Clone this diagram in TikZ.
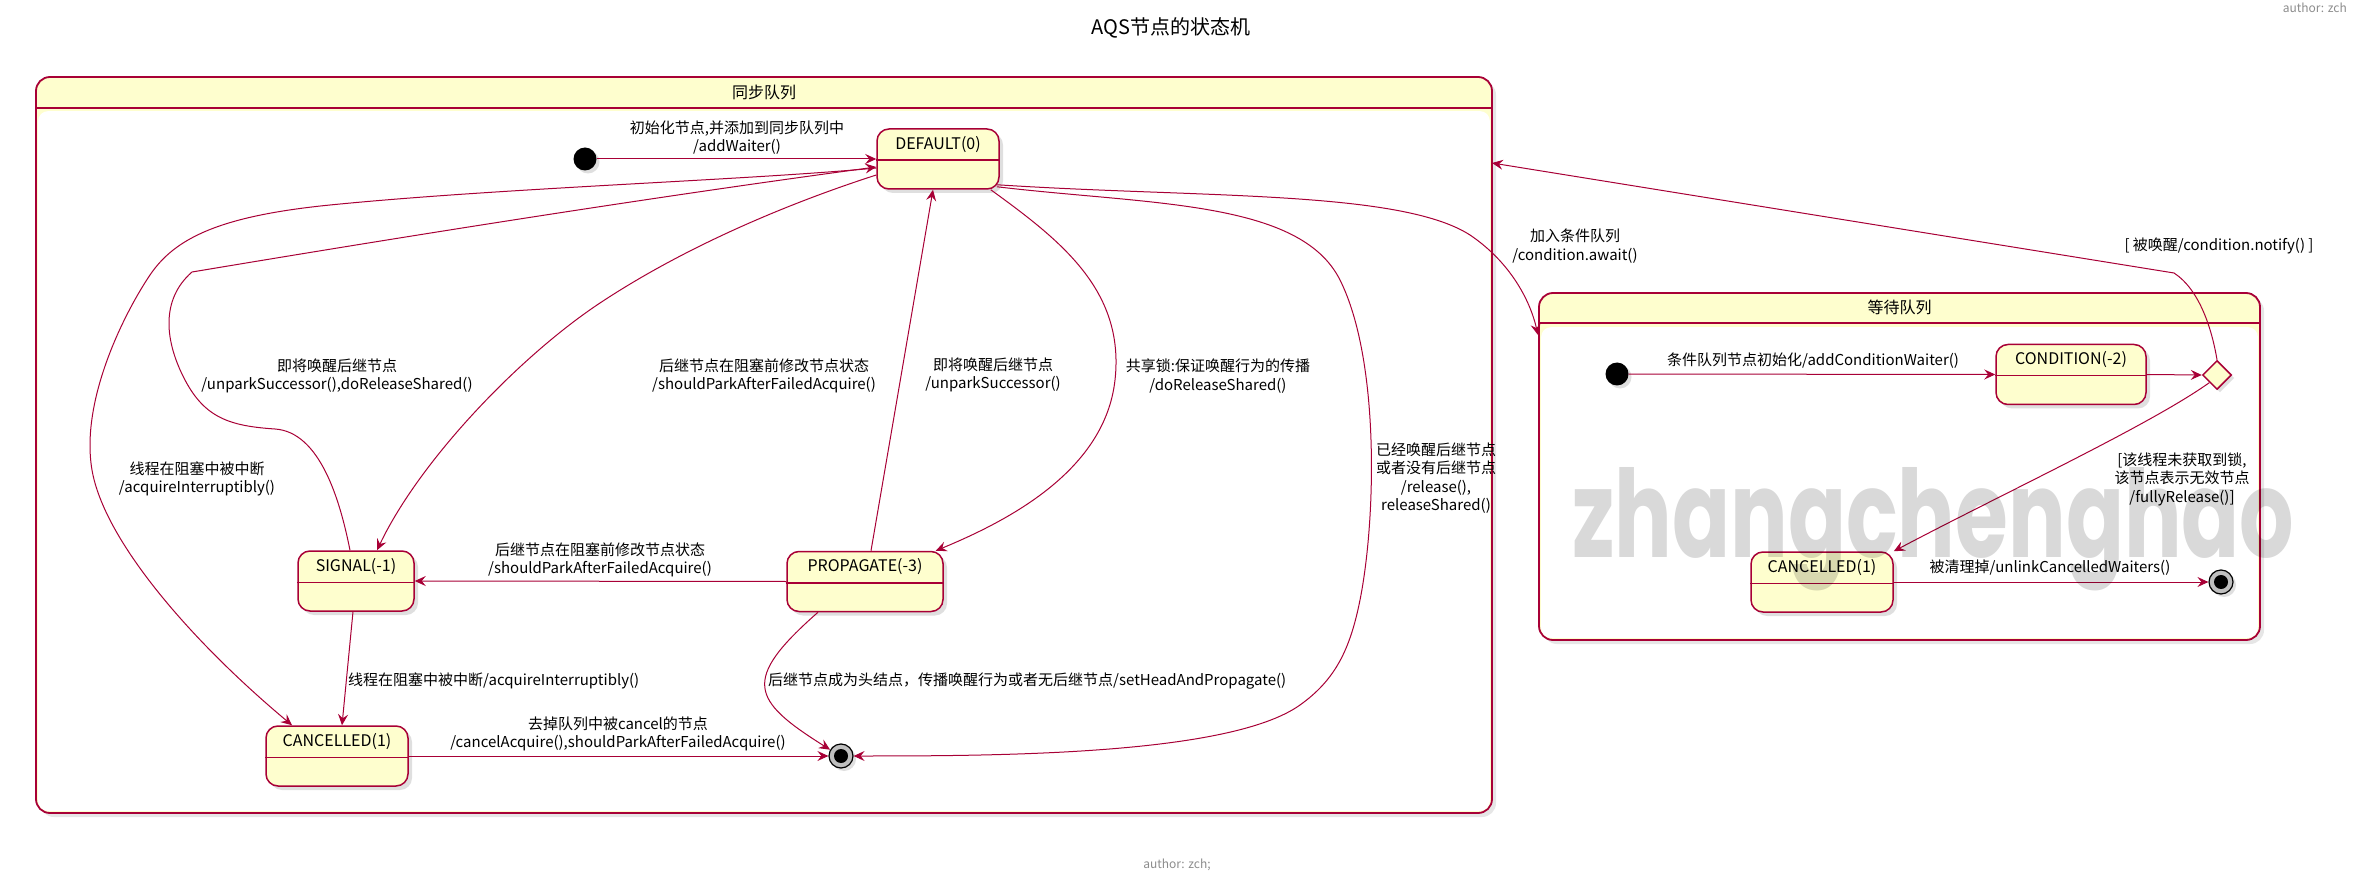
\documentclass[tikz,border=0pt]{standalone}
\usepackage{fontspec}
\setmainfont{Noto Sans CJK SC}
\newfontfamily\markfont{Poppins}
\usetikzlibrary{arrows.meta,shapes.geometric,shadows}
\definecolor{umlred}{HTML}{A80036}
\definecolor{umlyellow}{HTML}{FEFECE}

\tikzset{
  trans/.style={draw=umlred, line width=1pt, -{Stealth[length=11pt,width=10pt,inset=4pt]}},
  lbl/.style={font=\fontsize{15}{18.5}\selectfont, align=center, inner sep=0pt},
  statebox/.style={draw=umlred, fill=umlyellow, line width=1.5pt, rounded corners=12pt, inner sep=0pt, minimum height=60pt,
    drop shadow={shadow xshift=4pt, shadow yshift=-4pt, opacity=0.25}},
  statename/.style={font=\fontsize{16}{18}\selectfont, inner sep=0pt},
  sepline/.style={draw=umlred, line width=1.5pt},
  startdot/.style={circle, fill=black, minimum size=23pt, inner sep=0pt,
    drop shadow={shadow xshift=3pt, shadow yshift=-3pt, opacity=0.25}},
  enddot/.style={circle, draw=black, fill=black!25, line width=1.2pt, minimum size=24pt, inner sep=0pt,
    drop shadow={shadow xshift=3pt, shadow yshift=-3pt, opacity=0.25},
    path picture={\fill[black] (path picture bounding box.center) circle (7pt);}},
  choicebox/.style={diamond, aspect=1, draw=umlred, fill=umlyellow, line width=1.5pt, minimum width=29pt, minimum height=29pt, inner sep=0pt,
    drop shadow={shadow xshift=3pt, shadow yshift=-3pt, opacity=0.25}},
  queueframe/.style={draw=umlred, fill=umlyellow, line width=1.8pt, rounded corners=14pt, inner sep=0pt,
    drop shadow={shadow xshift=4pt, shadow yshift=-4pt, opacity=0.2}},
  framename/.style={font=\fontsize{16}{18}\selectfont, inner sep=0pt},
  authortext/.style={font=\fontsize{12}{14}\selectfont, text=black!45, inner sep=0pt},
}

\begin{document}
\begin{tikzpicture}[x=1pt,y=-1pt]
\useasboundingbox (0,0) rectangle (2356,882);

\node[font=\fontsize{20}{24}\selectfont, inner sep=0pt] (title) at (1171,28) {AQS节点的状态机};
\node[authortext, anchor=east] (authortop) at (2347,8) {author: zch};
\node[authortext] (authorbottom) at (1177,865) {author: zch;};

% 同步队列
\node[queueframe, minimum width=1456pt, minimum height=736pt] (syncq) at (764,445) {};
\fill[white, rounded corners=10pt] ([xshift=3pt,yshift=-35pt]syncq.north west) rectangle ([xshift=-3pt,yshift=3pt]syncq.south east);
\draw[sepline, line width=1.8pt] ([yshift=-32pt]syncq.north west) -- ([yshift=-32pt]syncq.north east);
\node[framename] (syncq-t) at ([yshift=-16pt]syncq.north) {同步队列};

% 等待队列
\node[queueframe, minimum width=721pt, minimum height=347pt] (waitq) at (1899.5,466.5) {};
\fill[white, rounded corners=10pt] ([xshift=3pt,yshift=-35pt]waitq.north west) rectangle ([xshift=-3pt,yshift=3pt]waitq.south east);
\draw[sepline, line width=1.8pt] ([yshift=-31pt]waitq.north west) -- ([yshift=-31pt]waitq.north east);
\node[framename] (waitq-t) at ([yshift=-15pt]waitq.north) {等待队列};

% states
\node[startdot] (start1) at (585,159) {};
\node[statebox, minimum width=122pt] (default) at (938,159) {};
\node[statename] (default-t) at ([yshift=-16pt]default.north) {DEFAULT(0)};
\draw[sepline] ([yshift=-32pt]default.north west) -- ([yshift=-32pt]default.north east);
\node[statebox, minimum width=116pt] (signal) at (356,581) {};
\node[statename] (signal-t) at ([yshift=-16pt]signal.north) {SIGNAL(-1)};
\draw[sepline] ([yshift=-32pt]signal.north west) -- ([yshift=-32pt]signal.north east);
\node[statebox, minimum width=156pt] (propagate) at (865,581.5) {};
\node[statename] (propagate-t) at ([yshift=-16pt]propagate.north) {PROPAGATE(-3)};
\draw[sepline] ([yshift=-32pt]propagate.north west) -- ([yshift=-32pt]propagate.north east);
\node[statebox, minimum width=142pt] (cancelA) at (337,756) {};
\node[statename] (cancelA-t) at ([yshift=-16pt]cancelA.north) {CANCELLED(1)};
\draw[sepline] ([yshift=-32pt]cancelA.north west) -- ([yshift=-32pt]cancelA.north east);
\node[enddot] (end1) at (841,756) {};

\node[startdot] (start2) at (1617,374) {};
\node[statebox, minimum width=150pt] (condition) at (2071,374.5) {};
\node[statename] (condition-t) at ([yshift=-16pt]condition.north) {CONDITION(-2)};
\draw[sepline] ([yshift=-32pt]condition.north west) -- ([yshift=-32pt]condition.north east);
\node[choicebox] (choice) at (2217,375) {};
\node[statebox, minimum width=142pt] (cancelB) at (1822,582) {};
\node[statename] (cancelB-t) at ([yshift=-16pt]cancelB.north) {CANCELLED(1)};
\draw[sepline] ([yshift=-32pt]cancelB.north west) -- ([yshift=-32pt]cancelB.north east);
\node[enddot] (end2) at (2221,582) {};

\coordinate (notifyIn) at (1492,163);
\coordinate (awaitIn) at (1538,335);

% transitions
\draw[trans] (start1) -- (default.west);
\draw[trans] ([xshift=-6pt]signal.north) .. controls (340,500) and (320,432) .. (275,429)
  .. controls (230,426) and (205,418) .. (185,380) .. controls (165,342) and (160,300) .. (192,272)
  .. controls (300,254) and (600,204) .. ([yshift=-8pt]default.west);
\draw[trans] ([yshift=-9pt]default.west) .. controls (750,180) and (500,188) .. (330,205)
  .. controls (220,216) and (175,238) .. (150,275) .. controls (125,312) and (80,400) .. (92,470)
  .. controls (104,540) and (190,640) .. ([xshift=-45pt]cancelA.north);
\draw[trans] ([yshift=-16pt]default.west) .. controls (780,206) and (680,250) .. (600,303)
  .. controls (520,356) and (420,460) .. ([xshift=21pt]signal.north);
\draw[trans] ([xshift=6pt]propagate.north) -- ([xshift=-5pt]default.south);
\draw[trans] ([xshift=-9pt]default.south east) .. controls (1060,240) and (1125,290) .. (1115,380)
  .. controls (1105,470) and (1010,520) .. ([xshift=-8pt]propagate.north east);
\draw[trans] ([xshift=-3pt,yshift=3pt]default.south east) .. controls (1150,205) and (1300,200) .. (1340,280)
  .. controls (1380,360) and (1376,520) .. (1360,600) .. controls (1350,650) and (1335,680) .. (1300,705)
  .. controls (1230,755) and (1000,756) .. (end1.east);
\draw[trans] ([xshift=-3pt,yshift=5pt]default.south east) .. controls (1200,198) and (1400,190) .. (1470,235)
  .. controls (1510,262) and (1530,300) .. (awaitIn);
\draw[trans] (propagate.west) -- (signal.east);
\draw[trans] ([xshift=-3pt]signal.south) -- ([xshift=5pt]cancelA.north);
\draw[trans] (cancelA.east) -- (end1.west);
\draw[trans] ([xshift=-47pt]propagate.south) .. controls (741,680) and (751,700) .. (end1.150);

\draw[trans] (start2) -- (condition.west);
\draw[trans] (condition.east) -- (choice.west);
\draw[trans] (choice.north) .. controls (2212,330) and (2200,290) .. (2174,273) -- (notifyIn);
\draw[trans] (choice.south west) .. controls (2150,425) and (2000,495) .. (cancelB.north east);
\draw[trans] (cancelB.east) -- (end2.west);

% labels
\node[lbl] (l-addwaiter) at (737,137.5) {初始化节点,并添加到同步队列中\\/addWaiter()};
\node[lbl] (l-unpark2) at (337,376) {即将唤醒后继节点\\/unparkSuccessor(),doReleaseShared()};
\node[lbl] (l-interrupt1) at (197,479) {线程在阻塞中被中断\\/acquireInterruptibly()};
\node[lbl] (l-shouldpark1) at (764,376) {后继节点在阻塞前修改节点状态\\/shouldParkAfterFailedAcquire()};
\node[lbl] (l-unpark1) at (993,375) {即将唤醒后继节点\\/unparkSuccessor()};
\node[lbl] (l-shared) at (1218,376) {共享锁:保证唤醒行为的传播\\/doReleaseShared()};
\node[lbl] (l-release) at (1436,478) {已经唤醒后继节点\\或者没有后继节点\\/release(),\\releaseShared()};
\node[lbl] (l-await) at (1575,246) {加入条件队列\\/condition.await()};
\node[lbl] (l-shouldpark2) at (600,560) {后继节点在阻塞前修改节点状态\\/shouldParkAfterFailedAcquire()};
\node[lbl, anchor=west] (l-interrupt2) at (348,681) {线程在阻塞中被中断/acquireInterruptibly()};
\node[lbl] (l-cancel) at (618,734) {去掉队列中被cancel的节点\\/cancelAcquire(),shouldParkAfterFailedAcquire()};
\node[lbl, anchor=west] (l-sethead) at (768,681) {后继节点成为头结点，传播唤醒行为或者无后继节点/setHeadAndPropagate()};
\node[lbl] (l-condwaiter) at (1813,361) {条件队列节点初始化/addConditionWaiter()};
\node[lbl] (l-notify) at (2219,246) {[ 被唤醒/condition.notify() ]};
\node[lbl] (l-fully) at (2182,479) {[该线程未获取到锁,\\该节点表示无效节点\\/fullyRelease()]};
\node[lbl] (l-unlink) at (2050,568) {被清理掉/unlinkCancelledWaiters()};

% watermark
\node[anchor=base west, inner sep=0pt, text=black, text opacity=0.15] (watermark) at (1572,557)
  {\resizebox{722pt}{90pt}{\markfont\bfseries zhangchenghao}};
\end{tikzpicture}
\end{document}
